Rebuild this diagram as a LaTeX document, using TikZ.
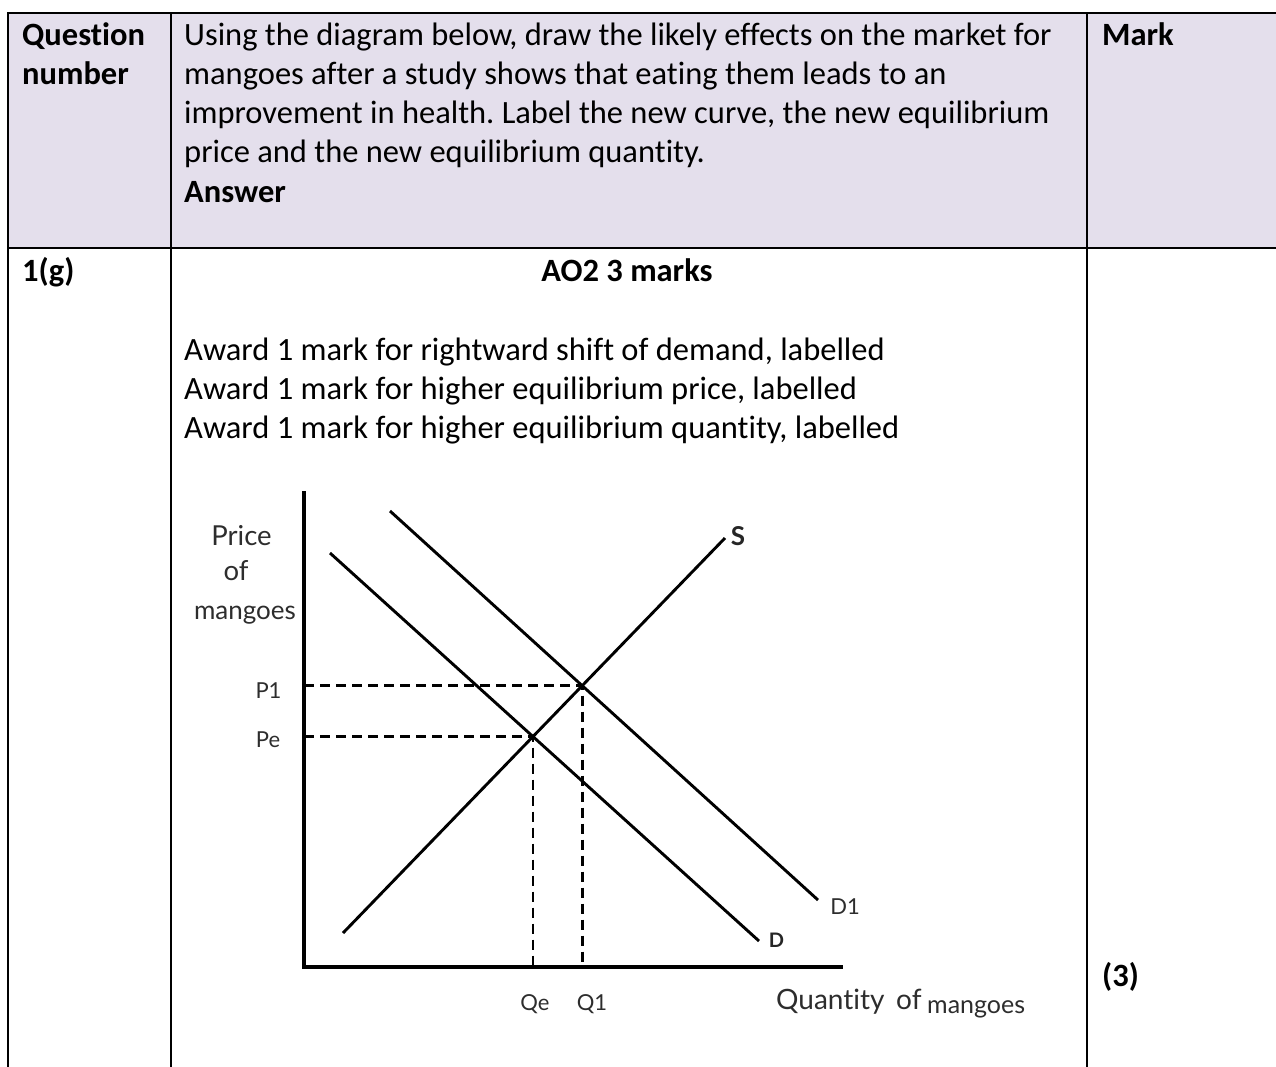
\documentclass[tikz,border=0pt]{standalone}
\usepackage{fontspec}
\setmainfont[Ligatures=NoCommon]{Carlito}
\newfontfamily\labfont[Ligatures=NoCommon]{Lato}
\definecolor{hdr}{RGB}{228,223,236}
\definecolor{labgray}{RGB}{45,45,45}
\begin{document}
\frenchspacing
\begin{tikzpicture}[x=1pt,y=-1pt,
  txt/.style={font=\fontsize{32.5}{40}\selectfont, anchor=base west, inner sep=0pt},
  btxt/.style={txt, font=\fontsize{32.5}{40}\selectfont\bfseries},
  rule/.style={line width=2pt, line cap=rect},
  curve/.style={line width=2.9pt},
  axis/.style={line width=3.3pt},
  guide/.style={line width=2.9pt, dash pattern=on 10pt off 6pt},
  lab/.style={font=\labfont\fontsize{26}{30}\selectfont, text=labgray, inner sep=0pt, anchor=base},
  smlab/.style={font=\labfont\fontsize{22}{26}\selectfont, text=labgray, inner sep=0pt, anchor=base},
  blab/.style={font=\labfont\bfseries\fontsize{22}{26}\selectfont, text=black!85, inner sep=0pt, anchor=base}]
\useasboundingbox (0,0) rectangle (1276,1066);
% table
\fill[hdr] (8,13) rectangle (1277,248);
\draw[rule] (8,13) -- (1277,13);
\draw[rule] (8,248) -- (1277,248);
\draw[rule] (8,13) -- (8,1067);
\draw[rule] (171,13) -- (171,1067);
\draw[rule] (1086.5,13) -- (1086.5,1067);
% header texts
\node[btxt] (q1) at (22,45) {Question};
\node[btxt] (q2) at (22,84.3) {number};
\node[txt] (h1) at (184,45) {Using the diagram below, draw the likely effects on the market for};
\node[txt] (h2) at (184,84.3) {mangoes after a study shows that eating them leads to an};
\node[txt] (h3) at (184,123.6) {improvement in health. Label the new curve, the new equilibrium};
\node[txt] (h4) at (184,162.9) {price and the new equilibrium quantity.};
\node[btxt] (h5) at (184,202.2) {Answer};
\node[btxt] (mk) at (1102,45) {Mark};
% body texts
\node[btxt] (qn) at (22,281) {1(g)};
\node[btxt, anchor=base] (ao) at (627,281) {AO2 3 marks};
\node[txt] (a1) at (184,360) {Award 1 mark for rightward shift of demand, labelled};
\node[txt] (a2) at (184,399) {Award 1 mark for higher equilibrium price, labelled};
\node[txt] (a3) at (184,438) {Award 1 mark for higher equilibrium quantity, labelled};
\node[btxt] (m3) at (1102,986) {(3)};
% graph
\coordinate (O) at (304,967);
\coordinate (Ytop) at (304,491);
\coordinate (Xend) at (843,967);
\coordinate (S0) at (343,933);
\coordinate (S1) at (725,538);
\coordinate (D0) at (330,553);
\coordinate (D1e) at (759,941);
\coordinate (N0) at (390,511);
\coordinate (N1) at (818,900);
\coordinate (E0) at (intersection of S0--S1 and D0--D1e);
\coordinate (E1) at (intersection of S0--S1 and N0--N1);
\draw[guide] (O |- E0) -- (E0) -- (E0 |- O);
\draw[guide] (O |- E1) -- (E1) -- (E1 |- O);
\draw[curve] (S0) -- (S1);
\draw[curve] (D0) -- (D1e);
\draw[curve] (N0) -- (N1);
\draw[axis] (Ytop) -- (O) -- (Xend);
% graph labels
\node[lab, font=\labfont\fontsize{27.5}{30}\selectfont] (lp) at (241.5,545) {Price};
\node[lab, font=\labfont\fontsize{27.5}{30}\selectfont] (lo) at (236,580) {of};
\node[lab] (lm) at (245,619) {mangoes};
\node[smlab] (lp1) at (268.5,698) {P1};
\node[smlab] (lpe) at (268,747) {Pe};
\node[smlab] (lqe) at (535,1010) {Qe};
\node[smlab] (lq1) at (592,1010) {Q1};
\node[smlab] (ld1) at (845,914) {D1};
\node[blab, font=\labfont\bfseries\fontsize{26}{30}\selectfont] (ls) at (738,545) {S};
\node[blab, font=\labfont\bfseries\fontsize{20}{24}\selectfont] (ld) at (776.5,947) {D};
\node[lab, anchor=base west, font=\labfont\fontsize{28}{30}\selectfont] (lq) at (776,1009) {Quantity};
\node[lab, anchor=base west, font=\labfont\fontsize{28}{30}\selectfont] (lqo) at (896,1009) {of};
\node[lab, anchor=base west, font=\labfont\fontsize{25}{30}\selectfont] (lqm) at (927,1013) {mangoes};
\end{tikzpicture}
\end{document}
